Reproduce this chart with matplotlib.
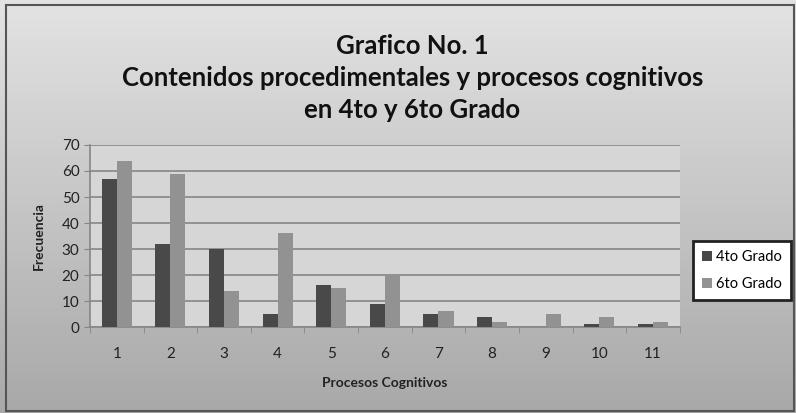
import matplotlib.pyplot as plt
import numpy as np
from matplotlib.patches import Rectangle

# Datos
categorias = ['1', '2', '3', '4', '5', '6', '7', '8', '9', '10', '11']
grado4 = [57, 32, 30, 5, 16, 9, 5, 4, 0, 1, 1]
grado6 = [64, 59, 14, 36, 15, 20, 6, 2, 5, 4, 2]
yticks = [0, 10, 20, 30, 40, 50, 60, 70]

plt.rcParams['font.family'] = ['Lato', 'DejaVu Sans']

fig = plt.figure(figsize=(7.96, 4.13), dpi=100)

# Fondo con degradado gris (claro arriba, oscuro abajo)
bg = fig.add_axes([0, 0, 1, 1], zorder=-10)
niveles = np.linspace(0.89, 0.66, 256)
grad = np.repeat(niveles.reshape(-1, 1, 1), 3, axis=2)
bg.imshow(grad, aspect='auto', extent=[0, 1, 0, 1], origin='upper')
bg.set_xlim(0, 1)
bg.set_ylim(0, 1)
bg.add_patch(Rectangle((0.008, 0.004), 0.99, 0.984, fill=False,
                       edgecolor='#555555', linewidth=1.5))
bg.axis('off')

ax = fig.add_axes([0.113, 0.208, 0.741, 0.441])
ax.set_facecolor('#d6d6d6')

x = np.arange(len(categorias))
ancho = 0.28
ax.bar(x - ancho / 2, grado4, ancho, color='#494949', label='4to Grado', zorder=3)
ax.bar(x + ancho / 2, grado6, ancho, color='#929292', label='6to Grado', zorder=3)

ax.set_xlim(-0.5, len(categorias) - 0.5)
ax.set_ylim(0, 70)
ax.set_yticks(yticks)
ax.yaxis.grid(True, color='#868686', linewidth=1.2, zorder=0)
ax.set_xticks(np.arange(len(categorias) + 1) - 0.5, minor=True)
ax.set_xticks(x)
ax.set_xticklabels(categorias)
ax.tick_params(axis='x', which='major', length=0, pad=14, labelsize=11, colors='#222222')
ax.tick_params(axis='x', which='minor', length=4, color='#868686', direction='out')
ax.tick_params(axis='y', length=4, color='#868686', labelsize=11, colors='#222222')
for s in ['top', 'right']:
    ax.spines[s].set_visible(False)
ax.spines['left'].set_color('#868686')
ax.spines['bottom'].set_color('#868686')
ax.spines['left'].set_linewidth(1.2)
ax.spines['bottom'].set_linewidth(1.2)

ax.set_ylabel('Frecuencia', fontsize=10, fontweight='bold', color='#222222', labelpad=12)
ax.set_xlabel('Procesos Cognitivos', fontsize=10, fontweight='bold', color='#222222', labelpad=12)

fig.text(0.518, 0.811, 'Grafico No. 1\nContenidos procedimentales y procesos cognitivos\nen 4to y 6to Grado',
         ha='center', va='center', fontsize=18.5, fontweight='bold', color='#111111',
         linespacing=1.38)

leg = ax.legend(loc='center left', bbox_to_anchor=(1.01, 0.31), frameon=True,
                fancybox=False, fontsize=10.5, handlelength=0.7, handleheight=0.7,
                handletextpad=0.3, labelspacing=0.9, borderpad=0.6)
leg.get_frame().set_edgecolor('#222222')
leg.get_frame().set_linewidth(2)
leg.get_frame().set_facecolor('white')
leg.get_frame().set_alpha(1)

fig.savefig('out.png', dpi=100)
